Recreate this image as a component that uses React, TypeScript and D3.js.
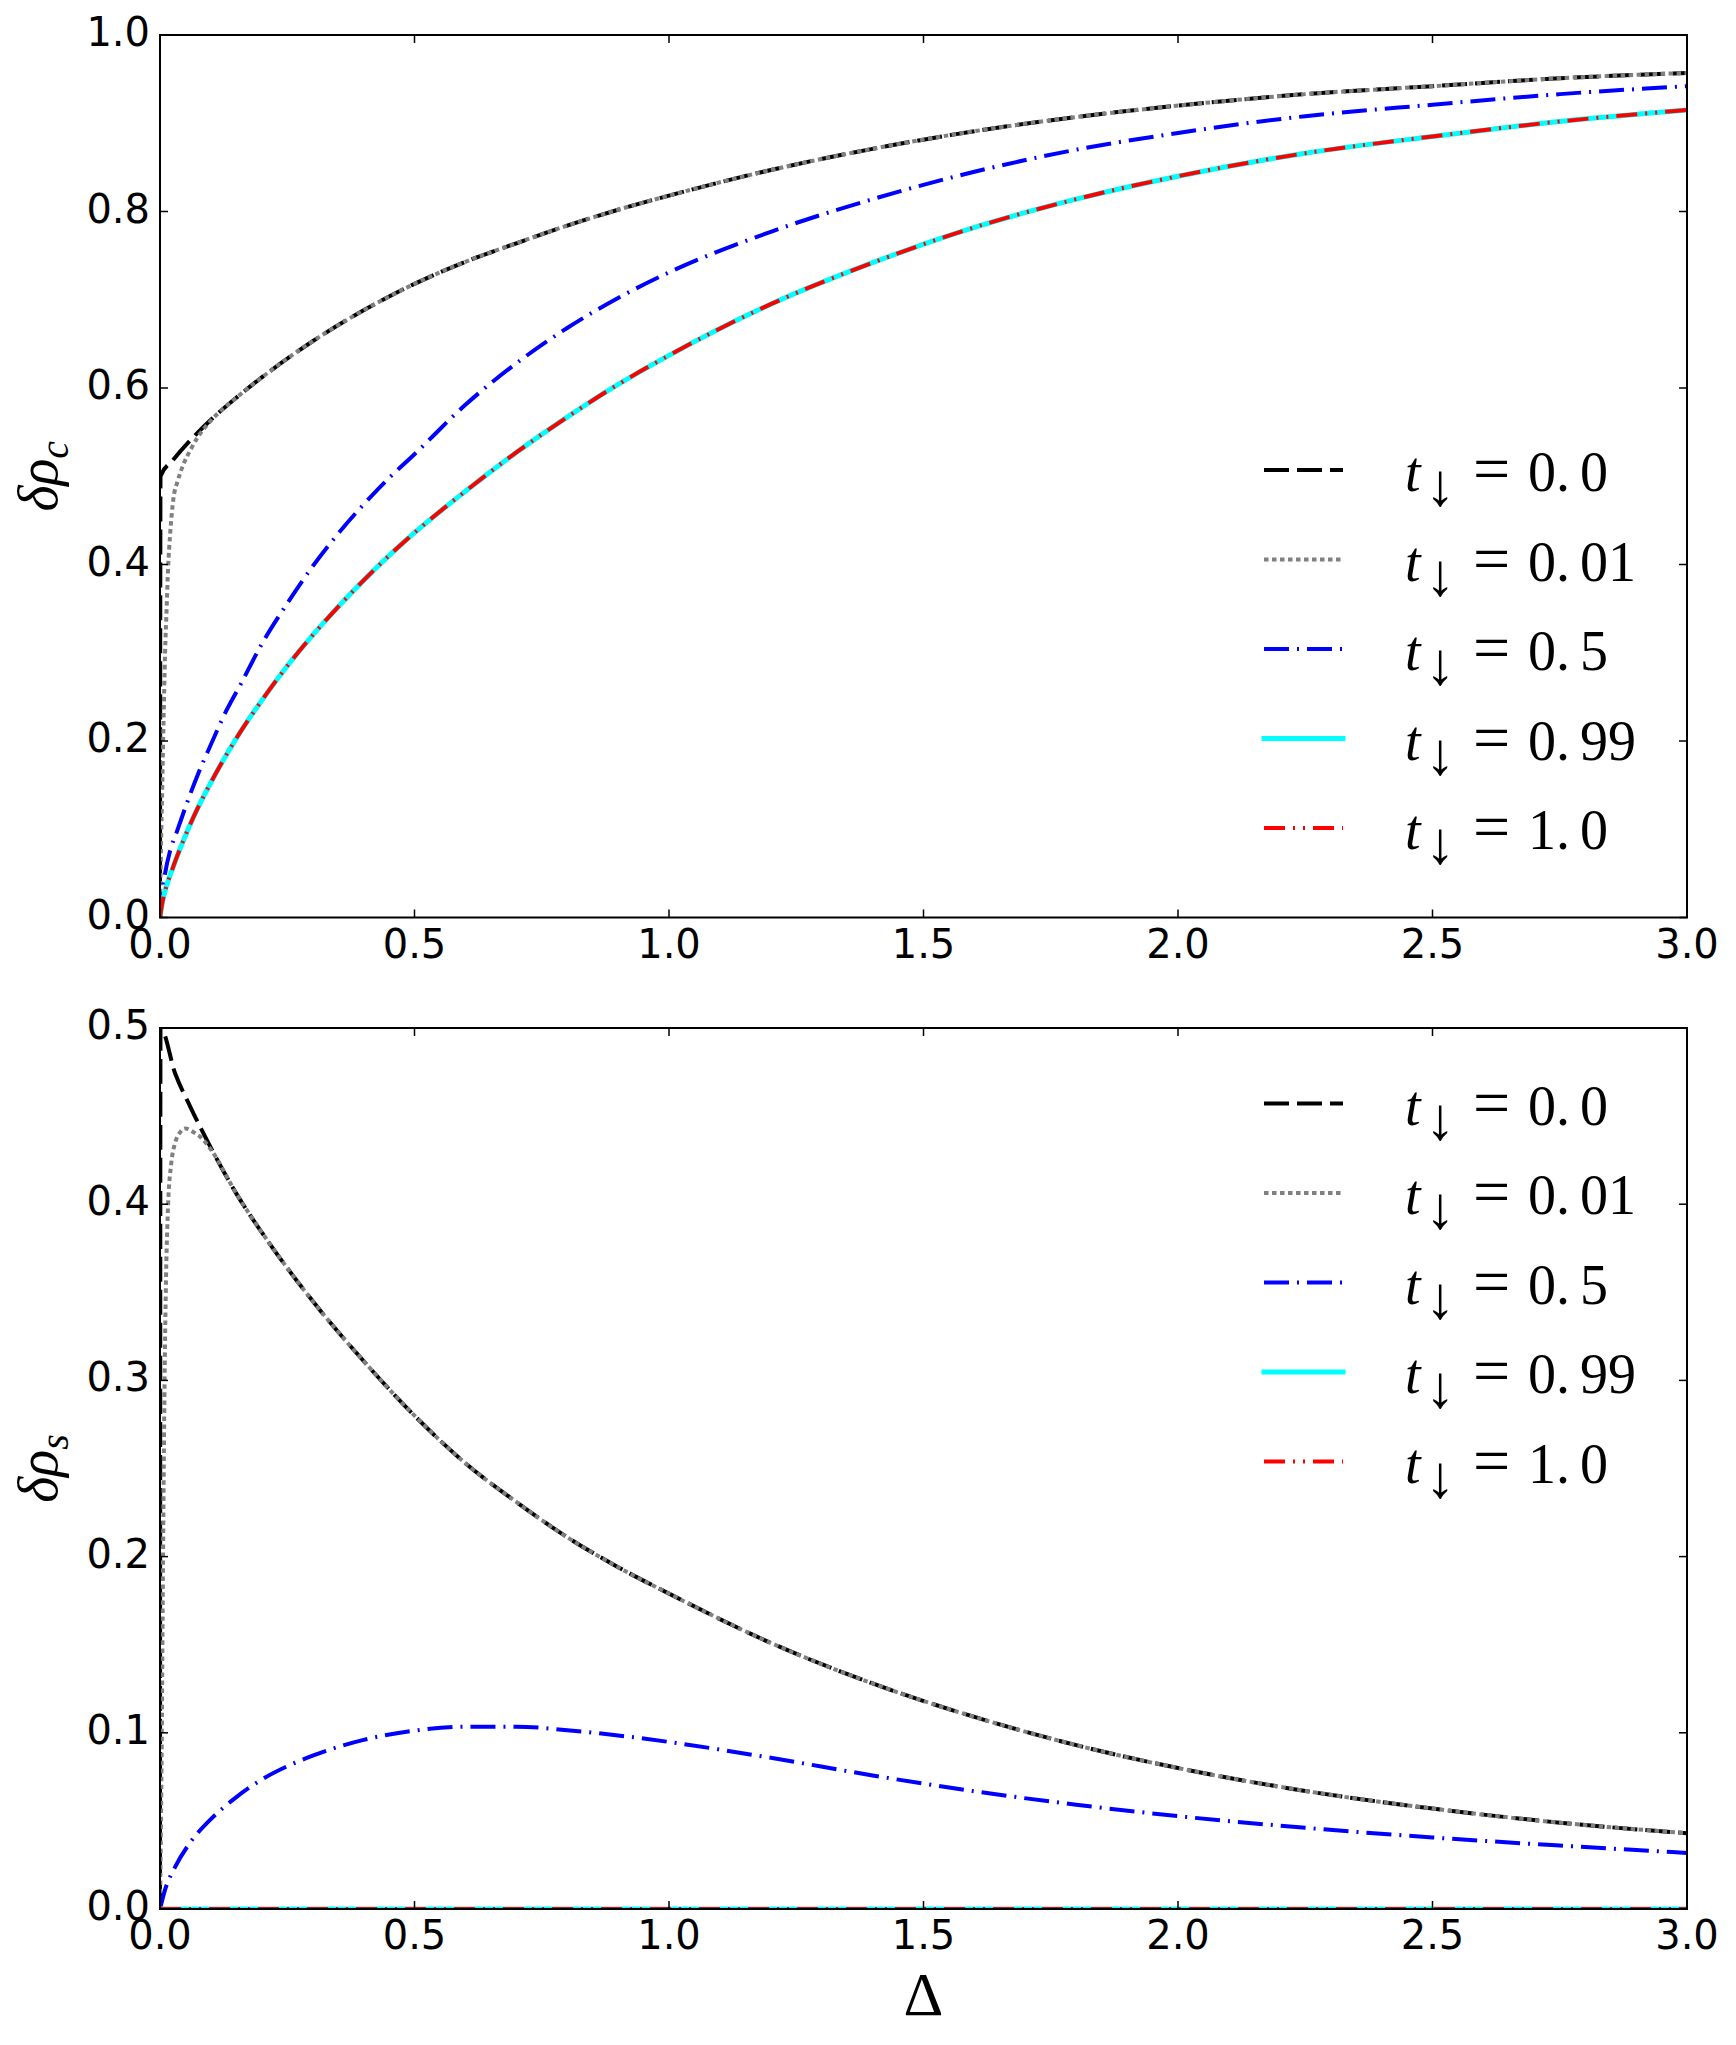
import * as d3 from "d3";
import React from "react";

// tick values and legend labels
const xTicks = [0, 0.5, 1.0, 1.5, 2.0, 2.5, 3.0];
const chargeTicks = [0, 0.2, 0.4, 0.6, 0.8, 1.0];
const spinTicks = [0, 0.1, 0.2, 0.3, 0.4, 0.5];
const hoppingLabels = ["0.0", "0.01", "0.5", "0.99", "1.0"];

// charge density difference δρ_c as [Δ, value]
const chargeT000 = [
  [0, 0], [0.001, 0.5], [0.025, 0.518], [0.06, 0.541], [0.1, 0.564], [0.15, 0.589],
  [0.2, 0.612], [0.3, 0.653], [0.4, 0.688], [0.5, 0.718], [0.6, 0.743], [0.7, 0.764],
  [0.8, 0.784], [0.9, 0.802], [1.0, 0.818], [1.2, 0.847], [1.4, 0.871], [1.6, 0.891],
  [1.8, 0.907], [2.0, 0.92], [2.25, 0.933], [2.5, 0.942], [2.75, 0.951], [3.0, 0.957],
];
const chargeT001 = [
  [0, 0], [0.002, 0.08], [0.0045, 0.15], [0.0065, 0.21], [0.01, 0.3], [0.013, 0.35],
  [0.016, 0.397], [0.02, 0.435], [0.026, 0.473], [0.035, 0.495], [0.045, 0.512],
  [0.06, 0.53], [0.075, 0.545], [0.1, 0.563], [0.15, 0.589], [0.2, 0.612], [0.3, 0.653],
  [0.4, 0.688], [0.5, 0.718], [0.6, 0.743], [0.7, 0.764], [0.8, 0.784], [0.9, 0.802],
  [1.0, 0.818], [1.2, 0.847], [1.4, 0.871], [1.6, 0.891], [1.8, 0.907], [2.0, 0.92],
  [2.25, 0.933], [2.5, 0.942], [2.75, 0.951], [3.0, 0.957],
];
const chargeT050 = [
  [0, 0], [0.005, 0.03], [0.01, 0.05], [0.02, 0.076], [0.033, 0.097], [0.05, 0.125],
  [0.075, 0.163], [0.1, 0.196], [0.13, 0.234], [0.16, 0.266], [0.2, 0.31], [0.25, 0.356],
  [0.3, 0.398], [0.35, 0.435], [0.4, 0.468], [0.45, 0.498], [0.5, 0.525], [0.6, 0.581],
  [0.7, 0.628], [0.8, 0.668], [0.9, 0.702], [1.0, 0.731], [1.2, 0.777], [1.4, 0.814],
  [1.6, 0.845], [1.8, 0.87], [2.0, 0.889], [2.25, 0.908], [2.5, 0.921], [2.75, 0.933],
  [3.0, 0.942],
];
const chargeT099 = [
  [0, 0], [0.005, 0.018], [0.01, 0.03], [0.025, 0.056], [0.05, 0.093], [0.075, 0.125],
  [0.1, 0.153], [0.15, 0.203], [0.2, 0.246], [0.25, 0.285], [0.3, 0.32], [0.35, 0.352],
  [0.4, 0.382], [0.45, 0.41], [0.5, 0.436], [0.6, 0.483], [0.7, 0.527], [0.8, 0.567],
  [0.9, 0.604], [1.0, 0.637], [1.2, 0.695], [1.4, 0.742], [1.6, 0.782], [1.8, 0.814],
  [2.0, 0.84], [2.25, 0.866], [2.5, 0.885], [2.75, 0.902], [3.0, 0.915],
];
const chargeT100 = [
  [0, 0], [0.005, 0.018], [0.01, 0.03], [0.025, 0.056], [0.05, 0.093], [0.075, 0.125],
  [0.1, 0.153], [0.15, 0.203], [0.2, 0.246], [0.25, 0.285], [0.3, 0.32], [0.35, 0.352],
  [0.4, 0.382], [0.45, 0.41], [0.5, 0.436], [0.6, 0.483], [0.7, 0.527], [0.8, 0.567],
  [0.9, 0.604], [1.0, 0.637], [1.2, 0.695], [1.4, 0.742], [1.6, 0.782], [1.8, 0.814],
  [2.0, 0.84], [2.25, 0.866], [2.5, 0.885], [2.75, 0.902], [3.0, 0.915],
];

// spin density difference δρ_s as [Δ, value]
const spinT000 = [
  [0, 0], [0.001, 0.5], [0.03, 0.474], [0.06, 0.455], [0.1, 0.432], [0.15, 0.406],
  [0.2, 0.384], [0.3, 0.345], [0.4, 0.311], [0.5, 0.28], [0.6, 0.253], [0.7, 0.231],
  [0.8, 0.211], [0.9, 0.194], [1.0, 0.179], [1.2, 0.151], [1.4, 0.128], [1.6, 0.109],
  [1.8, 0.093], [2.0, 0.08], [2.25, 0.067], [2.5, 0.057], [2.75, 0.049], [3.0, 0.043],
];
const spinT001 = [
  [0, 0], [0.003, 0.08], [0.006, 0.2], [0.009, 0.3], [0.012, 0.36], [0.016, 0.4],
  [0.022, 0.423], [0.03, 0.435], [0.04, 0.441], [0.05, 0.443], [0.065, 0.441],
  [0.08, 0.438], [0.1, 0.431], [0.15, 0.406], [0.2, 0.384], [0.3, 0.345], [0.4, 0.311],
  [0.5, 0.28], [0.6, 0.253], [0.7, 0.231], [0.8, 0.211], [0.9, 0.194], [1.0, 0.179],
  [1.2, 0.151], [1.4, 0.128], [1.6, 0.109], [1.8, 0.093], [2.0, 0.08], [2.25, 0.067],
  [2.5, 0.057], [2.75, 0.049], [3.0, 0.043],
];
const spinT050 = [
  [0, 0], [0.01, 0.011], [0.03, 0.024], [0.06, 0.038], [0.1, 0.051], [0.15, 0.0635],
  [0.2, 0.0735], [0.25, 0.081], [0.3, 0.087], [0.4, 0.096], [0.5, 0.1012], [0.6, 0.1035],
  [0.7, 0.1035], [0.8, 0.1015], [0.9, 0.0985], [1.0, 0.0948], [1.2, 0.0858], [1.4, 0.0758],
  [1.6, 0.0668], [1.8, 0.0592], [2.0, 0.0527], [2.25, 0.0461], [2.5, 0.0406],
  [2.75, 0.036], [3.0, 0.0318],
];
const spinT099 = [[0, 0], [1.0, 0], [2.0, 0], [3.0, 0]];
const spinT100 = [[0, 0], [1.0, 0], [2.0, 0], [3.0, 0]];

const lineStyles = [
  { color: "#000000", width: 4, dash: "25 8", cap: "butt" },
  { color: "#808080", width: 4, dash: "4.5 3.5", cap: "butt" },
  { color: "#0000ff", width: 4, dash: "25 8 2 8", cap: "butt" },
  { color: "#00ffff", width: 5, dash: undefined, cap: "square" },
  { color: "#ff0000", width: 4, dash: "21 8 2 8 2 8", cap: "butt" },
];

const W = 1736;
const H = 2045;
const LEFT = 160;
const RIGHT = 1687;
const TICK = 8;
const ROW = 89.5;

const x = d3.scaleLinear().domain([0, 3]).range([LEFT, RIGHT]);
const fmt = d3.format(".1f");

type PanelProps = {
  top: number;
  bottom: number;
  yMax: number;
  yTicks: number[];
  series: number[][][];
  legendAt: "upper" | "lower";
  sub: string;
  id: string;
};

function Panel({ top, bottom, yMax, yTicks, series, legendAt, sub, id }: PanelProps) {
  const y = d3.scaleLinear().domain([0, yMax]).range([bottom, top]);
  const line = d3
    .line<number[]>()
    .x((d) => x(d[0]))
    .y((d) => y(d[1]))
    .curve(d3.curveMonotoneX);

  const rowY = (i: number) =>
    legendAt === "lower" ? bottom - ROW * (5 - i) : top + 75.5 + ROW * i;

  return (
    <g>
      <defs>
        <clipPath id={id}>
          <rect x={LEFT} y={top} width={RIGHT - LEFT} height={bottom - top} />
        </clipPath>
      </defs>

      <g clipPath={`url(#${id})`}>
        {series.map((s, i) => (
          <path
            key={i}
            d={line(s) || ""}
            fill="none"
            stroke={lineStyles[i].color}
            strokeWidth={lineStyles[i].width}
            strokeDasharray={lineStyles[i].dash}
            strokeLinecap={lineStyles[i].cap as any}
            strokeLinejoin="round"
          />
        ))}
      </g>

      {/* ticks on all four sides, pointing inward */}
      {xTicks.map((t) => (
        <g key={"x" + t}>
          <line x1={x(t)} x2={x(t)} y1={bottom} y2={bottom - TICK} stroke="#000" strokeWidth={1.5} />
          <line x1={x(t)} x2={x(t)} y1={top} y2={top + TICK} stroke="#000" strokeWidth={1.5} />
          <text
            x={x(t)}
            y={bottom + 40}
            textAnchor="middle"
            fontFamily="DejaVu Sans"
            fontSize={40}
          >
            {fmt(t)}
          </text>
        </g>
      ))}
      {yTicks.map((t) => (
        <g key={"y" + t}>
          <line x1={LEFT} x2={LEFT + TICK} y1={y(t)} y2={y(t)} stroke="#000" strokeWidth={1.5} />
          <line x1={RIGHT} x2={RIGHT - TICK} y1={y(t)} y2={y(t)} stroke="#000" strokeWidth={1.5} />
          <text
            x={LEFT - 10}
            y={y(t) + 11}
            textAnchor="end"
            fontFamily="DejaVu Sans"
            fontSize={40}
          >
            {fmt(t)}
          </text>
        </g>
      ))}

      <rect
        x={LEFT}
        y={top}
        width={RIGHT - LEFT}
        height={bottom - top}
        fill="none"
        stroke="#000"
        strokeWidth={2}
      />

      {/* y axis label */}
      <text
        transform={`translate(57,${(top + bottom) / 2}) rotate(-90)`}
        textAnchor="middle"
        fontFamily="Liberation Serif"
        fontStyle="italic"
        fontSize={56}
      >
        δρ
        <tspan dy={11} fontSize={40}>
          {sub}
        </tspan>
      </text>

      {/* legend */}
      {hoppingLabels.map((lab, i) => {
        const ry = rowY(i);
        const st = lineStyles[i];
        const [intPart, frac] = lab.split(".");
        return (
          <g key={"leg" + i}>
            <line
              x1={RIGHT - 423}
              x2={RIGHT - 344}
              y1={ry}
              y2={ry}
              stroke={st.color}
              strokeWidth={st.width}
              strokeDasharray={st.dash}
              strokeLinecap={st.cap as any}
            />
            <text fontFamily="Liberation Serif" fontSize={56} y={ry + 21}>
              <tspan x={RIGHT - 282} fontStyle="italic">
                t
              </tspan>
              <tspan x={RIGHT - 262} y={ry + 35} fontSize={60}>
                ↓
              </tspan>
              <tspan x={RIGHT - 214} y={ry + 21} fontSize={66}>
                =
              </tspan>
              <tspan x={RIGHT - 159} y={ry + 21}>
                {intPart + "."}
              </tspan>
              <tspan x={RIGHT - 107} y={ry + 21}>
                {frac}
              </tspan>
            </text>
          </g>
        );
      })}
    </g>
  );
}

export default function App() {
  return (
    <svg
      width={W}
      height={H}
      style={{ position: "absolute", left: 0, top: 0, background: "#fff" }}
    >
      <rect width={W} height={H} fill="#fff" />
      <Panel
        top={35}
        bottom={917.5}
        yMax={1.0}
        yTicks={chargeTicks}
        series={[chargeT000, chargeT001, chargeT050, chargeT099, chargeT100]}
        legendAt="lower"
        sub="c"
        id="clip-charge"
      />
      <Panel
        top={1028}
        bottom={1909}
        yMax={0.5}
        yTicks={spinTicks}
        series={[spinT000, spinT001, spinT050, spinT099, spinT100]}
        legendAt="upper"
        sub="s"
        id="clip-spin"
      />
      <text
        x={(LEFT + RIGHT) / 2}
        y={2015}
        textAnchor="middle"
        fontFamily="Liberation Serif"
        fontSize={62}
      >
        Δ
      </text>
    </svg>
  );
}
